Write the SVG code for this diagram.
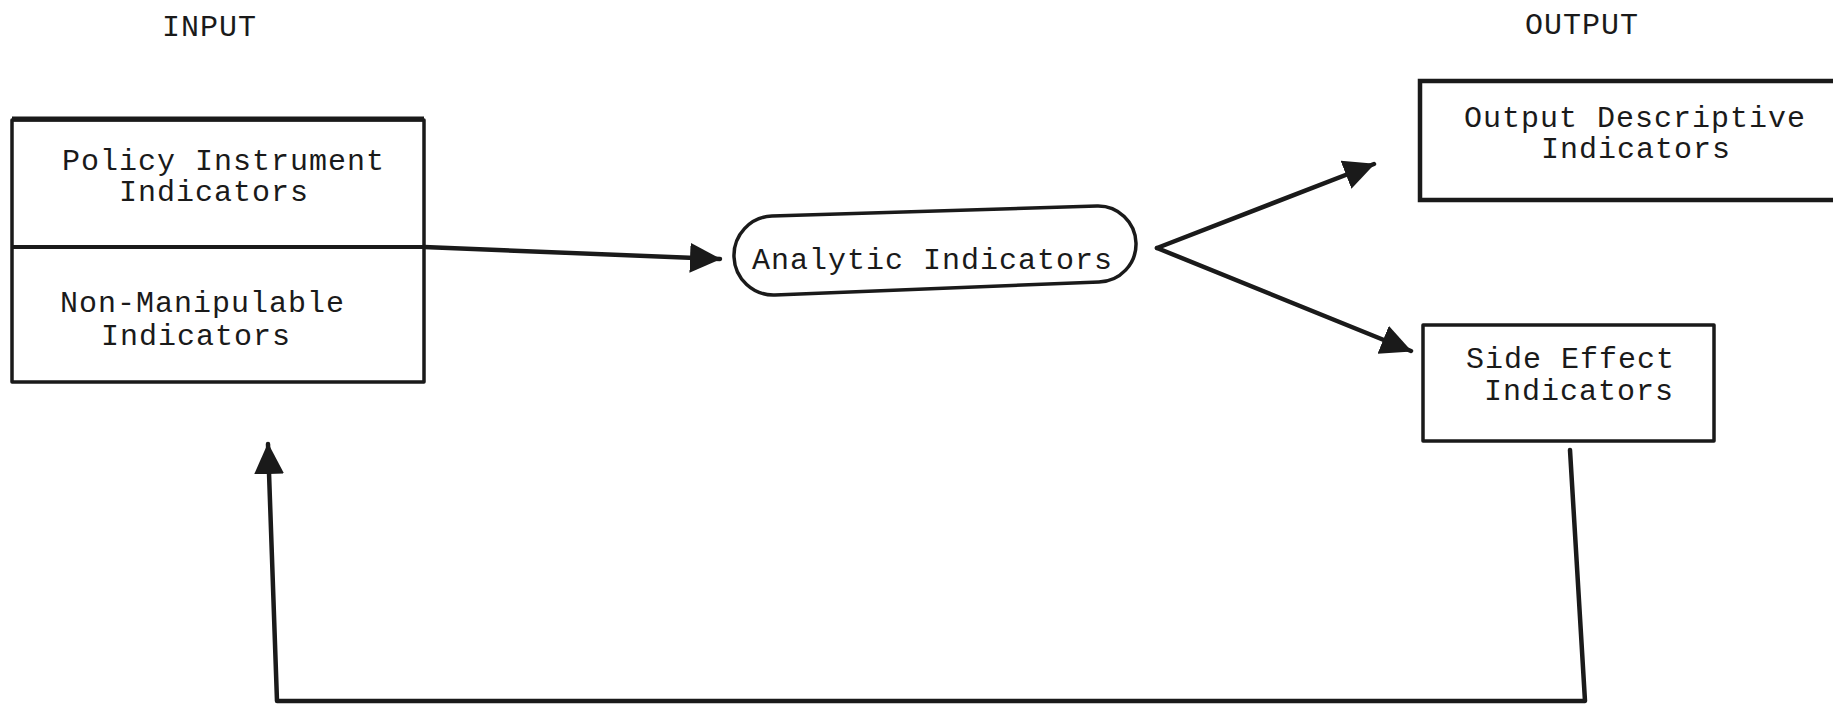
<svg xmlns="http://www.w3.org/2000/svg" width="1833" height="704" viewBox="0 0 1833 704">
<style>
text{font-family:"Liberation Mono","DejaVu Sans Mono",monospace;font-size:30px;fill:#1a1a1a;letter-spacing:1px}
.box{fill:none;stroke:#1a1a1a;stroke-width:3.5;stroke-linejoin:round}
.conn{fill:none;stroke:#1a1a1a;stroke-width:4.5;stroke-linejoin:round;stroke-linecap:round}
</style>
<defs>
<marker id="ah" markerUnits="userSpaceOnUse" markerWidth="34" markerHeight="34" refX="30" refY="15" orient="auto" viewBox="0 0 34 34">
<path d="M0,0 L31,15 L0,30 Z" fill="#1a1a1a"/>
</marker>
</defs>
<rect width="1833" height="704" fill="#fff"/>
<text x="162" y="36">INPUT</text>
<text x="1525" y="34">OUTPUT</text>
<g id="input">
<rect class="box" x="12" y="120" width="412" height="262"/>
<line x1="12" y1="119" x2="424" y2="119" stroke="#1a1a1a" stroke-width="5"/>
<line x1="12" y1="247" x2="424" y2="247" stroke="#1a1a1a" stroke-width="4"/>
<text x="62" y="170">Policy Instrument</text>
<text x="119" y="201">Indicators</text>
<text x="60" y="312">Non-Manipulable</text>
<text x="101" y="345">Indicators</text>
</g>
<g id="analytic">
<path class="box" d="M772,216 L1097,206 A38,38 0 0 1 1099,282 L775,295 A39.5,39.5 0 0 1 772,216 Z"/>
<text x="752" y="269">Analytic Indicators</text>
</g>
<g id="output-descriptive">
<path d="M1845,81 L1420,81 L1420,200 L1845,200" fill="none" stroke="#1a1a1a" stroke-width="4.5"/>
<text x="1464" y="127">Output Descriptive</text>
<text x="1541" y="158">Indicators</text>
</g>
<g id="side-effect">
<rect class="box" x="1423" y="325" width="291" height="116"/>
<text x="1466" y="368">Side Effect</text>
<text x="1484" y="400">Indicators</text>
</g>
<g id="connectors">
<path class="conn" d="M424,247 L720,259" marker-end="url(#ah)"/>
<path class="conn" d="M1157,248 L1374,164" marker-end="url(#ah)"/>
<path class="conn" d="M1157,248 L1411,351" marker-end="url(#ah)"/>
<path class="conn" d="M1570,450 L1585,701 L277,701 L268,444" marker-end="url(#ah)"/>
</g>
</svg>
